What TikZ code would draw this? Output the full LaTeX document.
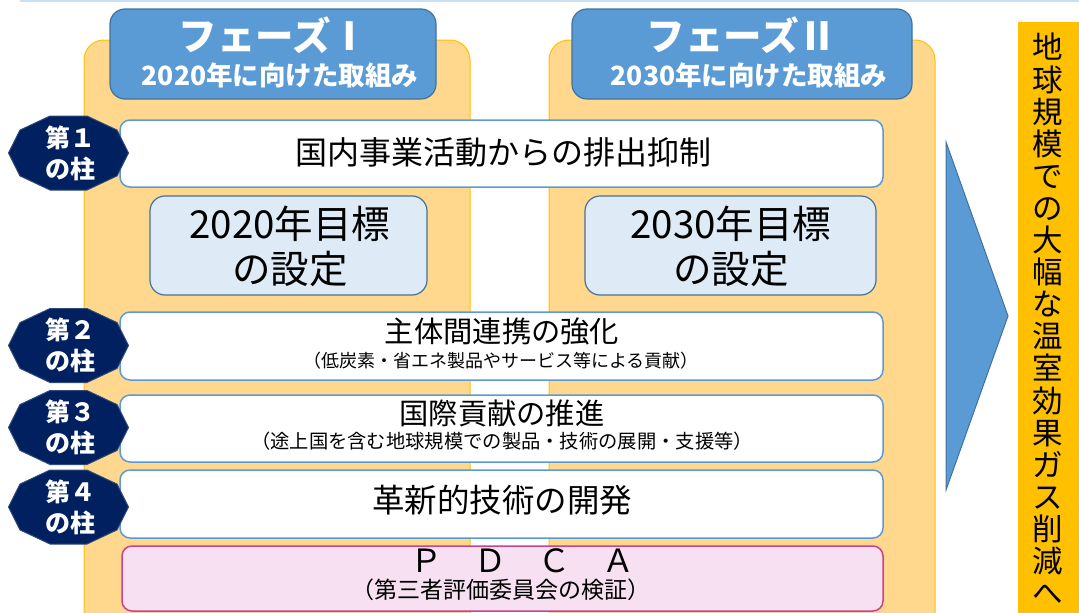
\documentclass[tikz,border=0pt]{standalone}
\usepackage{fontspec}
\setmainfont{Noto Sans CJK JP}
\definecolor{orbg}{HTML}{FFD88E}
\definecolor{orline}{HTML}{FFC000}
\definecolor{hblue}{HTML}{5B9BD5}
\definecolor{hblueline}{HTML}{41719C}
\definecolor{goalfill}{HTML}{DEEBF7}
\definecolor{navy}{HTML}{002060}
\definecolor{navyline}{HTML}{2F4A7A}
\definecolor{pinkfill}{HTML}{F6E0F1}
\definecolor{pinkline}{HTML}{C8428E}
\definecolor{gold}{HTML}{FFC000}
\definecolor{topline}{HTML}{C9E0F4}
\tikzset{
  phasebg/.style={fill=orbg, draw=orline, line width=1pt, rounded corners=20pt},
  header/.style={fill=hblue, draw=hblueline, line width=1.2pt, rounded corners=15pt, minimum width=326pt, minimum height=90pt, inner sep=0pt},
  rowbox/.style={fill=white, draw=hblue, line width=1.5pt, rounded corners=10pt, minimum width=763pt, inner sep=0pt},
  goalbox/.style={fill=goalfill, draw=hblueline, line width=1.2pt, rounded corners=15pt, minimum height=99pt, inner sep=0pt},
  pdcabox/.style={fill=pinkfill, draw=pinkline, line width=1.5pt, rounded corners=10pt, minimum width=761pt, minimum height=65pt, inner sep=0pt},
  txt/.style={inner sep=0pt, align=center},
  pillartxt/.style={inner sep=0pt, align=center, text=white, font=\bfseries\fontsize{25}{31}\selectfont},
  pillar/.pic={
    \draw[fill=navy, draw=navyline, line width=1pt]
      (60,0) -- (48.5,22.9) -- (18.5,37) -- (-18.5,37) -- (-48.5,22.9) -- (-60,0)
      -- (-48.5,-22.9) -- (-18.5,-37) -- (18.5,-37) -- (48.5,-22.9) -- cycle;
  },
}
\begin{document}
\begin{tikzpicture}[x=1pt, y=-1pt]
\path[use as bounding box] (0,0) rectangle (1079,613);
% top line
\draw[topline, line width=1.2pt] (20,1) -- (1079,1);
% phase backgrounds
\path[phasebg] (84,40) rectangle (470,640);
\path[phasebg] (549,40) rectangle (935,640);
% headers
\node[header] (h1) at (273,54) {};
\node[header, minimum width=340pt] (h2) at (742,54) {};
\node[txt, text=white, font=\bfseries\fontsize{38.5}{42}\selectfont] (h1a) at (274,35) {フェーズⅠ};
\node[txt, text=white, font=\bfseries\fontsize{26.5}{30}\selectfont] (h1b) at (280,75) {2020年に向けた取組み};
\node[txt, text=white, font=\bfseries\fontsize{38.5}{42}\selectfont] (h2a) at (742,35) {フェーズⅡ};
\node[txt, text=white, font=\bfseries\fontsize{26.5}{30}\selectfont] (h2b) at (749,75) {2030年に向けた取組み};
% row 1
\node[rowbox, minimum height=67pt] (r1) at (501.5,153.5) {};
\node[txt, font=\fontsize{32}{36}\selectfont] (r1t) at (503,152) {国内事業活動からの排出抑制};
% goals
\node[goalbox, minimum width=277pt] (g1) at (288.5,245.5) {};
\node[txt, font=\fontsize{38.5}{45}\selectfont] (g1t) at (290,246) {2020年目標\\の設定};
\node[goalbox, minimum width=291pt] (g2) at (730.5,245.5) {};
\node[txt, font=\fontsize{38.5}{45}\selectfont] (g2t) at (731,246) {2030年目標\\の設定};
% row 2
\node[rowbox, minimum height=68pt] (r2) at (501.5,346) {};
\node[txt, font=\fontsize{29.3}{32}\selectfont] (r2t) at (502,331) {主体間連携の強化};
\node[txt, font=\fontsize{18}{20}\selectfont] (r2s) at (501,361) {（低炭素・省エネ製品やサービス等による貢献）};
% row 3
\node[rowbox, minimum height=67pt] (r3) at (501.5,428.5) {};
\node[txt, font=\fontsize{29.3}{32}\selectfont] (r3t) at (502,413) {国際貢献の推進};
\node[txt, font=\fontsize{19.3}{22}\selectfont] (r3s) at (502,441) {（途上国を含む地球規模での製品・技術の展開・支援等）};
% row 4
\node[rowbox, minimum height=68pt] (r4) at (501.5,504) {};
\node[txt, font=\fontsize{32.5}{36}\selectfont] (r4t) at (502,500) {革新的技術の開発};
% PDCA
\node[pdcabox] (pd) at (502.5,578.5) {};
\node[txt, font=\fontsize{32}{34}\selectfont] (pdt) at (522,561) {Ｐ　Ｄ　Ｃ　Ａ};
\node[txt, font=\fontsize{23}{25}\selectfont] (pds) at (501,590) {（第三者評価委員会の検証）};
% pillars
\pic at (68.5,153) {pillar};
\node[pillartxt] (p1) at (70,153) {第１\\の柱};
\pic at (68.5,345.5) {pillar};
\node[pillartxt] (p2) at (70,345.5) {第２\\の柱};
\pic at (68.5,427.5) {pillar};
\node[pillartxt] (p3) at (70,427.5) {第３\\の柱};
\pic at (68.5,507) {pillar};
\node[pillartxt] (p4) at (70,507) {第４\\の柱};
% arrow
\draw[fill=hblue, draw=hblueline, line width=1pt] (946,142) -- (1008,316) -- (946,490) -- cycle;
% goal column
\node[fill=gold, minimum width=61pt, minimum height=600pt, inner sep=0pt] (gc) at (1048.5,322) {};
\node[txt, font=\fontsize{30.5}{32.1}\selectfont] (gct) at (1048,319) {地\\球\\規\\模\\で\\の\\大\\幅\\な\\温\\室\\効\\果\\ガ\\ス\\削\\減\\へ};
\end{tikzpicture}
\end{document}
